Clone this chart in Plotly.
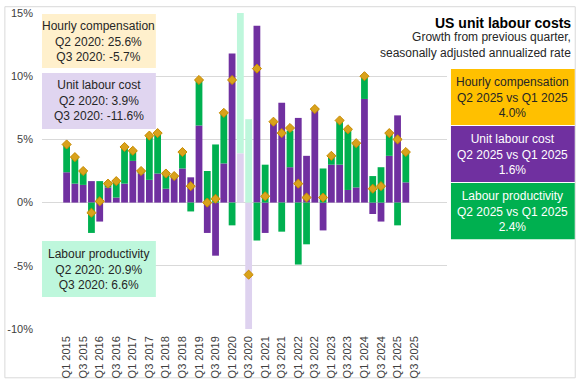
import plotly.graph_objects as go

years = list(range(2015, 2026))
quarters = [f"Q{q} {y}" for y in years for q in range(1, 5)]

unit_labour_cost = [2.4, 1.5, 1.4, 1.7, -1.5, 1.2, 0.4, 1.5, 3.3, 2.3, 1.8, 2.3,
                    1.1, 2.0, 2.7, 2.0, 6.1, -2.4, -4.2, 3.1, 11.8, 3.9, -11.6, 14.0,
                    -2.4, 6.3, 7.9, 2.8, 6.7, 3.7, 7.3, -2.2, 3.0, 3.0, 1.0, 1.2,
                    8.2, -0.9, -1.5, 3.7, 6.9, 1.6, None, None]
labour_productivity = [2.2, 2.1, 1.1, -2.4, 1.7, 0.3, 1.3, 2.9, 0.8, 0.2, 3.5, 3.1,
                       1.3, 0.1, 1.3, -0.7, 3.6, 2.5, 4.6, 3.9, -1.8, 20.9, 6.6, -3.0,
                       3.0, 0.1, -2.3, 2.9, -4.9, -3.3, 0.1, 2.7, 0.7, 3.4, 4.8, 3.4,
                       1.7, 2.1, 2.8, 1.8, -1.8, 2.4, None, None]
hourly_compensation = [4.6, 3.6, 2.5, -0.8, 0.1, 1.5, 1.7, 4.4, 4.1, 2.5, 5.3, 5.5,
                       2.3, 2.1, 4.0, 1.3, 9.7, 0.0, 0.3, 7.1, 9.7, 25.6, -5.7, 10.6,
                       0.5, 6.4, 5.5, 5.9, 1.5, 0.4, 7.4, 0.4, 3.7, 6.5, 5.8, 4.7,
                       10.0, 1.1, 1.3, 5.5, 5.0, 4.0, None, None]
highlight = ["Q2 2020", "Q3 2020"]
tick_labels = [q for q in quarters if q.startswith("Q1") or q.startswith("Q3")]

PURPLE = "#7030A0"
GREEN = "#00B050"
GOLD = "#FFC000"
LIGHT_PURPLE = "#DED2EF"
LIGHT_GREEN = "#BEF7DC"
LIGHT_GOLD = "#FFF0CC"
FONT = "Liberation Sans"
TXT = "#262626"

ulc_colors = [LIGHT_PURPLE if q in highlight else PURPLE for q in quarters]
prod_colors = [LIGHT_GREEN if q in highlight else GREEN for q in quarters]

fig = go.Figure()
fig.add_trace(go.Bar(x=quarters, y=unit_labour_cost, marker=dict(color=ulc_colors, line=dict(width=0)),
                     name="Unit labour cost"))
fig.add_trace(go.Bar(x=quarters, y=labour_productivity, marker=dict(color=prod_colors, line=dict(width=0)),
                     name="Labour productivity"))
fig.add_trace(go.Scatter(x=quarters, y=hourly_compensation, mode="markers",
                         marker=dict(symbol="diamond", size=7, color="#D9A21B",
                                     line=dict(color="#C78A00", width=1)),
                         name="Hourly compensation"))

W, H = 577, 385
L, R, T, B = 38, 447, 7, 334


def px(x):
    return (x - L) / (R - L)


def py(y):
    return (B - y) / (B - T)


shapes = []
annotations = []


def box(x0, y0, x1, y1, fill, lines, color):
    shapes.append(dict(type="rect", xref="paper", yref="paper",
                       x0=px(x0), x1=px(x1), y0=py(y1), y1=py(y0),
                       fillcolor=fill, line=dict(width=0), layer="above"))
    annotations.append(dict(xref="paper", yref="paper", x=px((x0 + x1) / 2), y=py((y0 + y1) / 2),
                            xanchor="center", yanchor="middle", showarrow=False,
                            text="<br>".join(lines), align="center",
                            font=dict(family=FONT, size=12, color=color)))


box(38, 8, 153, 64, LIGHT_GOLD, ["Hourly compensation", "Q2 2020: 25.6%", "Q3 2020: -5.7%"], TXT)
box(38, 69, 153, 127, "#E0D5F0", ["Unit labour cost", "Q2 2020: 3.9%", "Q3 2020: -11.6%"], TXT)
box(38, 243, 153, 301, LIGHT_GREEN, ["Labour productivity", "Q2 2020: 20.9%", "Q3 2020: 6.6%"], TXT)

box(451, 65, 576, 123, GOLD, ["Hourly compensation", "Q2 2025 vs Q1 2025", "4.0%"], TXT)
box(451, 124, 576, 182, PURPLE, ["Unit labour cost", "Q2 2025 vs Q1 2025", "1.6%"], "white")
box(451, 183, 576, 241, GREEN, ["Labour productivity", "Q2 2025 vs Q1 2025", "2.4%"], "white")

annotations.append(dict(xref="paper", yref="paper", x=px(574), y=py(17), xanchor="right", yanchor="middle",
                        showarrow=False, text="<b>US unit labour costs</b>",
                        font=dict(family=FONT, size=14, color="#000000")))
annotations.append(dict(xref="paper", yref="paper", x=px(574), y=py(40), xanchor="right", yanchor="middle",
                        showarrow=False, align="right",
                        text="Growth from previous quarter,<br>seasonally adjusted annualized rate",
                        font=dict(family=FONT, size=12, color=TXT)))

# outer chart border
shapes.append(dict(type="rect", xref="paper", yref="paper",
                   x0=px(0.5), x1=px(576.5), y0=py(384.5), y1=py(0.5),
                   line=dict(color="#D9D9D9", width=1), fillcolor="rgba(0,0,0,0)", layer="below"))

fig.update_layout(
    width=W, height=H,
    margin=dict(l=L, r=W - R, t=T, b=H - B),
    barmode="relative", bargap=0.18,
    showlegend=False,
    plot_bgcolor="white", paper_bgcolor="white",
    font=dict(family=FONT, color="#404040"),
    shapes=shapes, annotations=annotations,
    xaxis=dict(type="category", categoryorder="array", categoryarray=quarters,
               tickmode="array", tickvals=tick_labels, ticktext=tick_labels,
               tickangle=-90, tickfont=dict(size=11, color="#404040"),
               showgrid=False, showline=False, ticks="", ticklabelstandoff=4),
    yaxis=dict(range=[-10, 15], tickvals=[-10, -5, 0, 5, 10, 15],
               ticktext=["-10%", "-5%", "0%", "5%", "10%", "15%"],
               tickfont=dict(size=11, color="#404040"),
               showgrid=True, gridcolor="#D9D9D9", gridwidth=1,
               zeroline=False, showline=False, ticks="", ticklabelstandoff=8),
)

fig.write_html("out.html", config={"displayModeBar": False},
               post_script="document.body.style.margin='0px';document.body.style.overflow='hidden';")
